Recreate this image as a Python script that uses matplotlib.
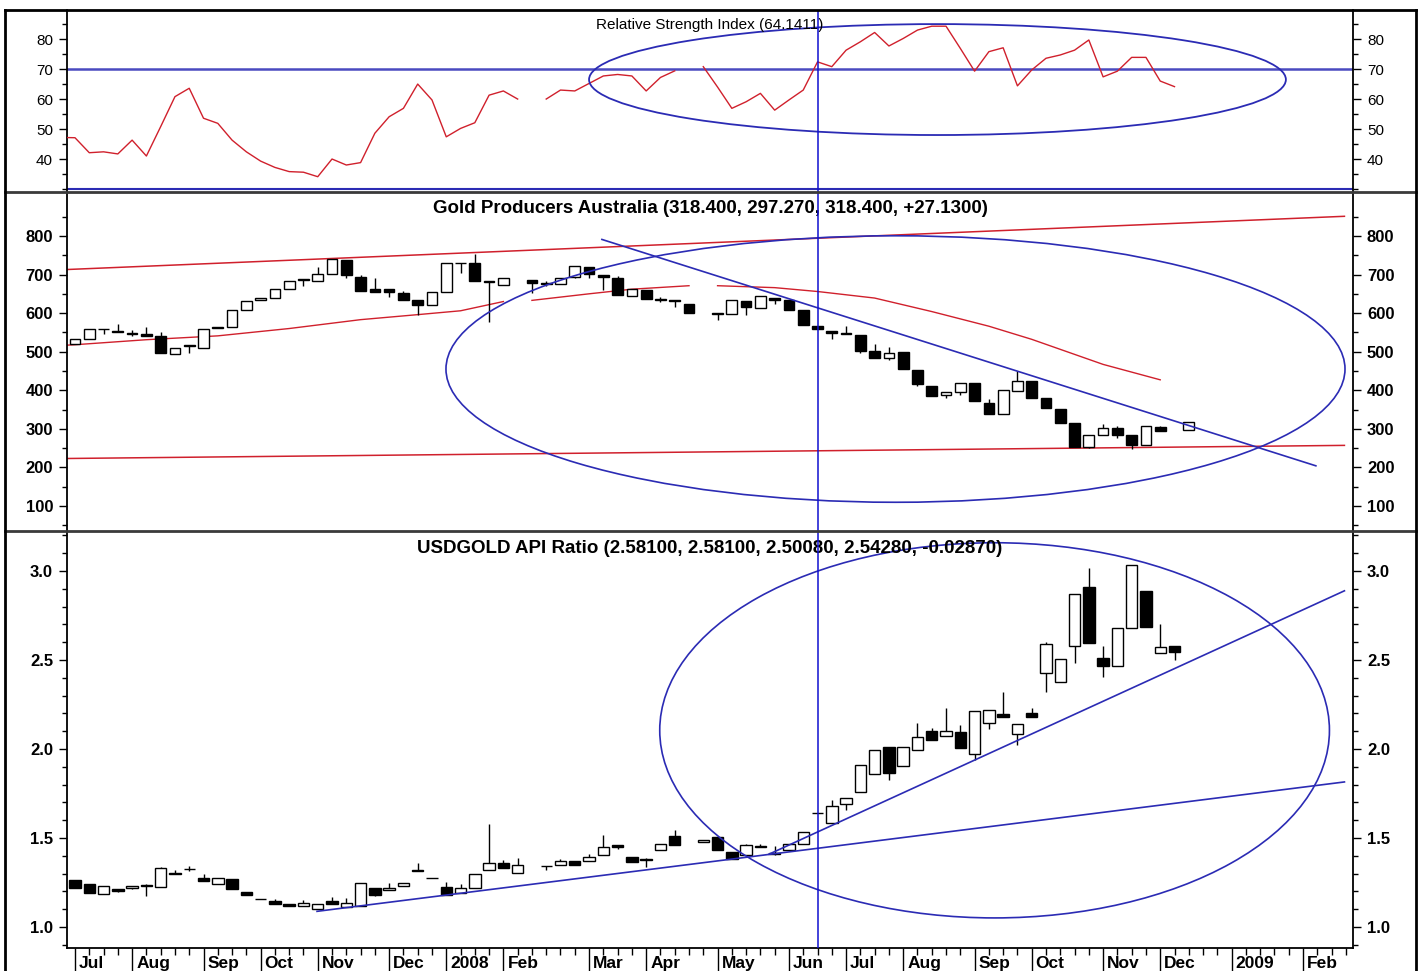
import matplotlib
matplotlib.use("Agg")
import matplotlib.pyplot as plt
import numpy as np
import pandas as pd
from matplotlib import font_manager
from matplotlib.lines import Line2D
from matplotlib.patches import Ellipse

# ---- x axis: weekly slots, week 0 = first July 2007 bar ----
month_weeks = [0, 4, 9, 13, 17, 22, 26, 30, 36, 40, 45, 50, 54, 58, 63, 67, 72, 76, 81, 86]
month_labels = ["Jul", "Aug", "Sep", "Oct", "Nov", "Dec", "2008", "Feb", "Mar", "Apr",
                "May", "Jun", "Jul", "Aug", "Sep", "Oct", "Nov", "Dec", "2009", "Feb"]
marker_week = 52

# ---- RSI panel ----
rsi_weeks = list(range(-1, 32)) + list(range(33, 43)) + list(range(44, 78))
rsi_values = [47.2, 47.1, 42.1, 42.4, 41.7, 46.3, 41.0, 50.8, 60.8, 63.6, 53.6,
              51.9, 46.3, 42.4, 39.3, 37.2, 35.8, 35.6, 34.1, 40.0, 38.0,
              38.8, 48.6, 54.1, 56.9, 65.0, 59.7, 47.4, 50.2, 52.1, 61.3,
              62.7, 60.0,
              60.0, 63.0, 62.7, 65.2, 67.7, 68.2, 67.7, 62.7, 67.2, 69.4,
              70.8, 64.0, 56.9, 59.1, 61.9, 56.3, 59.7, 63.0, 72.4, 70.8,
              76.3, 79.1, 82.2, 77.7, 80.2, 83.0, 84.3, 84.3, 76.9, 69.3,
              75.8, 77.1, 64.4, 69.7, 73.6, 74.7, 76.3, 79.7, 67.4, 69.3,
              73.9, 73.9, 66.0, 64.14]
rsi_levels = [70, 30]
rsi_ellipse = (60.4, 66.5, 48.8, 37.0)  # centre week, centre value, width, height

# ---- Gold Producers Australia (weekly OHLC) ----
gold_weeks = list(range(0, 31)) + list(range(32, 44)) + list(range(45, 77)) + [78]
gold_open = [519, 533, 560, 553, 549, 545, 540, 493, 517, 510, 564, 563, 609, 634, 639, 662,
             689, 684, 701, 737, 693, 662, 662, 652, 633, 620, 656, 731, 731, 682, 673,
             686, 678, 675, 693, 720, 699, 690, 645, 660, 637, 633, 623,
             599, 597, 632, 613, 640, 634, 607, 566, 553, 549, 543, 502, 484, 499, 453, 412,
             388, 396, 418, 366, 339, 398, 424, 381, 351, 315, 253, 283, 302, 283, 257, 304,
             297.27]
gold_high = [533, 559, 560, 572, 556, 564, 550, 510, 517, 559, 564, 609, 632, 640, 662, 684,
             689, 720, 740, 737, 700, 690, 662, 658, 633, 656, 729, 731, 753, 682, 690,
             686, 684, 692, 722, 720, 699, 696, 662, 660, 643, 633, 623,
             599, 634, 632, 645, 640, 634, 607, 566, 553, 566, 543, 519, 511, 499, 453, 412,
             396, 418, 418, 377, 400, 450, 424, 381, 351, 315, 283, 313, 308, 283, 306, 308,
             318.4]
gold_low = [519, 533, 547, 551, 541, 541, 496, 493, 497, 510, 561, 563, 609, 634, 639, 662,
            669, 684, 701, 692, 658, 656, 642, 634, 596, 620, 656, 705, 684, 577, 673,
            653, 670, 675, 690, 690, 660, 646, 645, 636, 629, 616, 600,
            583, 597, 596, 613, 623, 609, 568, 559, 534, 546, 497, 484, 478, 454, 411, 386,
            380, 388, 371, 339, 339, 398, 381, 353, 315, 253, 249, 283, 276, 247, 257, 293,
            297.27]
gold_close = [533, 559, 558, 551, 547, 541, 496, 510, 515, 559, 561, 609, 632, 640, 662, 684,
              687, 701, 740, 699, 658, 656, 656, 634, 620, 656, 729, 729, 684, 680, 690,
              679, 676, 692, 722, 701, 693, 646, 662, 636, 635, 631, 600,
              597, 634, 616, 645, 634, 609, 568, 559, 549, 546, 502, 484, 496, 454, 416, 386,
              396, 418, 371, 339, 400, 424, 381, 353, 315, 253, 283, 302, 283, 259, 306, 293,
              318.4]

# moving average, drawn in three pieces (gaps where weeks are missing)
ma_segments_weeks = [[-1, 0, 5, 10, 15, 20, 24, 27, 30],
                     [32, 36, 39, 43],
                     [45, 49, 52, 56, 60, 64, 67, 70, 72, 76]]
ma_segments_values = [[516, 518, 531, 541, 560, 583, 596, 606, 630],
                      [633, 650, 662, 671],
                      [671, 666, 656, 639, 604, 566, 532, 493, 467, 427]]

gold_red_lines = [([-0.56, 88.9], [713, 851]), ([-0.56, 88.9], [223, 257])]
gold_blue_line = ([36.9, 86.9], [791, 204])
gold_ellipse = (57.46, 455, 62.96, 691)

# ---- USDGOLD API Ratio (weekly OHLC) ----
ratio_weeks = list(range(0, 32)) + list(range(33, 43)) + list(range(44, 78))
ratio_open = [1.262, 1.244, 1.187, 1.212, 1.219, 1.238, 1.225, 1.302, 1.328, 1.277,
              1.244, 1.268, 1.197, 1.157, 1.146, 1.131, 1.118, 1.099, 1.146, 1.113,
              1.116, 1.219, 1.206, 1.230, 1.322, 1.277, 1.225, 1.193, 1.219, 1.319,
              1.360, 1.306,
              1.345, 1.347, 1.369, 1.369, 1.403, 1.459, 1.394, 1.382, 1.435, 1.510,
              1.478, 1.506, 1.422, 1.403, 1.452, 1.414, 1.431, 1.469, 1.643, 1.585,
              1.690, 1.759, 1.858, 2.012, 1.903, 1.993, 2.100, 2.074, 2.097, 1.971,
              2.147, 2.196, 2.087, 2.203, 2.428, 2.378, 2.580, 2.912, 2.509, 2.466,
              2.681, 2.888, 2.537, 2.581]
ratio_high = [1.262, 1.244, 1.229, 1.214, 1.233, 1.240, 1.338, 1.320, 1.345, 1.300,
              1.276, 1.268, 1.197, 1.157, 1.155, 1.131, 1.150, 1.131, 1.170, 1.165,
              1.247, 1.219, 1.250, 1.247, 1.362, 1.277, 1.253, 1.243, 1.296, 1.581,
              1.375, 1.389,
              1.345, 1.380, 1.369, 1.412, 1.516, 1.462, 1.394, 1.385, 1.465, 1.544,
              1.491, 1.506, 1.422, 1.468, 1.465, 1.455, 1.469, 1.534, 1.643, 1.713,
              1.722, 1.909, 1.993, 2.012, 2.012, 2.147, 2.120, 2.228, 2.134, 2.215,
              2.222, 2.321, 2.138, 2.228, 2.603, 2.505, 2.869, 3.015, 2.578, 2.678,
              3.034, 2.888, 2.700, 2.581]
ratio_low = [1.221, 1.193, 1.187, 1.198, 1.215, 1.174, 1.225, 1.296, 1.315, 1.259,
             1.244, 1.212, 1.178, 1.155, 1.131, 1.118, 1.118, 1.099, 1.128, 1.113,
             1.116, 1.175, 1.206, 1.230, 1.313, 1.275, 1.178, 1.193, 1.219, 1.319,
             1.334, 1.306,
             1.322, 1.347, 1.350, 1.369, 1.403, 1.440, 1.366, 1.337, 1.435, 1.459,
             1.478, 1.431, 1.384, 1.403, 1.452, 1.405, 1.431, 1.469, 1.639, 1.585,
             1.655, 1.759, 1.858, 1.825, 1.903, 1.993, 2.050, 2.074, 2.008, 1.941,
             2.115, 2.181, 2.022, 2.181, 2.318, 2.378, 2.485, 2.597, 2.406, 2.466,
             2.681, 2.687, 2.537, 2.5008]
ratio_close = [1.221, 1.193, 1.229, 1.205, 1.229, 1.232, 1.334, 1.296, 1.326, 1.259,
               1.276, 1.212, 1.182, 1.155, 1.131, 1.118, 1.137, 1.131, 1.131, 1.137,
               1.247, 1.182, 1.221, 1.247, 1.313, 1.275, 1.178, 1.219, 1.296, 1.360,
               1.334, 1.347,
               1.341, 1.369, 1.350, 1.394, 1.450, 1.452, 1.366, 1.378, 1.465, 1.459,
               1.491, 1.431, 1.384, 1.459, 1.457, 1.411, 1.469, 1.534, 1.639, 1.679,
               1.722, 1.909, 1.993, 1.866, 2.012, 2.068, 2.050, 2.100, 2.008, 2.215,
               2.222, 2.181, 2.138, 2.181, 2.588, 2.505, 2.869, 2.597, 2.466, 2.678,
               3.034, 2.687, 2.575, 2.5428]

ratio_blue_lines = [([16.95, 88.9], [1.088, 1.815]), ([48.6, 88.9], [1.409, 2.889])]
ratio_ellipse = (64.4, 2.105, 46.9, 2.108)

# ---- styling ----
RED = "#d0202c"
BLUE = "#2b2bb4"
VBLUE = "#1010d0"
FIG_W, FIG_H = 1422, 971
XLIM = (-0.56, 89.5)

available = {f.name for f in font_manager.fontManager.ttflist}
NARROW = "Liberation Sans Narrow" if "Liberation Sans Narrow" in available else "Liberation Sans"
plt.rcParams["font.family"] = ["Liberation Sans", "DejaVu Sans"]


def fy(px: float) -> float:
    return 1 - px / FIG_H


def draw_candles(ax, weeks, o, h, l, c, width=0.78):
    weeks, o, h, l, c = (np.asarray(a, dtype=float) for a in (weeks, o, h, l, c))
    bottom = np.minimum(o, c)
    height = np.abs(c - o)
    colors = np.where(c >= o, "white", "black")
    ax.vlines(weeks, l, h, color="black", lw=1.0, zorder=3)
    ax.bar(weeks, height, width, bottom=bottom, color=colors,
           edgecolor="black", linewidth=1.0, zorder=4)


def style_y(ax, major, minor, bold, size, family):
    ax.set_yticks(major)
    ax.set_yticks(minor, minor=True)
    ax.tick_params(axis="y", which="both", direction="out", left=True, right=True,
                   labelleft=True, labelright=True, width=1)
    ax.tick_params(axis="y", which="major", length=6, pad=4)
    ax.tick_params(axis="y", which="minor", length=3.5)
    for lab in ax.get_yticklabels():
        lab.set_fontweight("bold" if bold else "normal")
        lab.set_fontsize(size)
        lab.set_family(family)
    ax.spines["top"].set_visible(False)
    for side in ("left", "right"):
        ax.spines[side].set_linewidth(1.3)
    ax.set_xlim(*XLIM)


fig = plt.figure(figsize=(FIG_W / 100, FIG_H / 100), dpi=100)
L, R = 67 / FIG_W, 1353 / FIG_W
ax_rsi = fig.add_axes([L, fy(192), R - L, fy(10) - fy(192)])
ax_gold = fig.add_axes([L, fy(531), R - L, fy(192) - fy(531)])
ax_ratio = fig.add_axes([L, fy(948), R - L, fy(531) - fy(948)])

# RSI
rsi = pd.Series(rsi_values, index=rsi_weeks).reindex(range(-1, 78))
ax_rsi.plot(rsi.index, rsi.values, color=RED, lw=1.0, zorder=3)
ax_rsi.axhline(rsi_levels[0], color="#4a4ac0", lw=1.8, zorder=2)
ax_rsi.axhline(rsi_levels[1], color=BLUE, lw=1.5, zorder=2)
cx, cy, ew, eh = rsi_ellipse
ax_rsi.add_patch(Ellipse((cx, cy), ew, eh, fill=False, edgecolor=BLUE, lw=1.3, zorder=4))
ax_rsi.set_ylim(29, 89.7)
style_y(ax_rsi, [40, 50, 60, 70, 80], np.arange(30, 90, 5), False, 11, NARROW)
ax_rsi.spines["bottom"].set_visible(False)
ax_rsi.tick_params(axis="x", which="both", bottom=False, labelbottom=False)
ax_rsi.text(0.5, 0.915, "Relative Strength Index (64.1411)", transform=ax_rsi.transAxes,
            ha="center", va="center", fontsize=11, family=NARROW, zorder=5)

# Gold producers
draw_candles(ax_gold, gold_weeks, gold_open, gold_high, gold_low, gold_close, width=0.75)
for wk, vals in zip(ma_segments_weeks, ma_segments_values):
    ax_gold.plot(wk, vals, color=RED, lw=1.0, zorder=2)
for xs, ys in gold_red_lines:
    ax_gold.plot(xs, ys, color=RED, lw=1.1, zorder=2)
ax_gold.plot(*gold_blue_line, color=BLUE, lw=1.2, zorder=5)
cx, cy, ew, eh = gold_ellipse
ax_gold.add_patch(Ellipse((cx, cy), ew, eh, fill=False, edgecolor=BLUE, lw=1.2, zorder=5))
ax_gold.set_ylim(35, 914)
style_y(ax_gold, np.arange(100, 900, 100), np.arange(50, 900, 50), True, 12, "Liberation Sans")
ax_gold.spines["bottom"].set_visible(False)
ax_gold.tick_params(axis="x", which="both", bottom=False, labelbottom=False)
ax_gold.text(0.5, 0.95, "Gold Producers Australia (318.400, 297.270, 318.400, +27.1300)",
             transform=ax_gold.transAxes, ha="center", va="center", fontsize=13.5,
             fontweight="bold", zorder=6)

# USDGOLD ratio
draw_candles(ax_ratio, ratio_weeks, ratio_open, ratio_high, ratio_low, ratio_close, width=0.8)
for xs, ys in ratio_blue_lines:
    ax_ratio.plot(xs, ys, color=BLUE, lw=1.2, zorder=5)
cx, cy, ew, eh = ratio_ellipse
ax_ratio.add_patch(Ellipse((cx, cy), ew, eh, fill=False, edgecolor=BLUE, lw=1.2, zorder=5))
ax_ratio.set_ylim(0.882, 3.225)
style_y(ax_ratio, [1.0, 1.5, 2.0, 2.5, 3.0], np.arange(0.9, 3.25, 0.1), True, 12, "Liberation Sans")
ax_ratio.yaxis.set_major_formatter(matplotlib.ticker.FormatStrFormatter("%.1f"))
ax_ratio.text(0.5, 0.959, "USDGOLD API Ratio (2.58100, 2.58100, 2.50080, 2.54280, -0.02870)",
              transform=ax_ratio.transAxes, ha="center", va="center", fontsize=13.5,
              fontweight="bold", zorder=6)
ax_ratio.spines["bottom"].set_linewidth(1.3)
ax_ratio.set_xticks(month_weeks)
ax_ratio.set_xticks(range(0, 90), minor=True)
ax_ratio.set_xticklabels([])
ax_ratio.tick_params(axis="x", which="major", direction="out", length=17, width=1)
ax_ratio.tick_params(axis="x", which="minor", direction="out", length=5, width=1)
for wk, lab in zip(month_weeks, month_labels):
    ax_ratio.annotate(lab, xy=(wk, 0), xycoords=("data", "axes fraction"),
                      xytext=(4, -8), textcoords="offset pixels", ha="left", va="top",
                      fontsize=12.5, fontweight="bold", annotation_clip=False)

# vertical marker through all panels
for ax in (ax_rsi, ax_gold, ax_ratio):
    ax.axvline(marker_week, color=VBLUE, lw=1.1, zorder=6)
    ax.set_xlim(*XLIM)

# outer frame and panel separators
frame_l, frame_r = 5 / FIG_W, 1416 / FIG_W
for y in (192, 531):
    fig.add_artist(Line2D([frame_l, frame_r], [fy(y), fy(y)], color="#3a3a3a", lw=2.0))
fig.add_artist(Line2D([frame_l, frame_r], [fy(10), fy(10)], color="black", lw=2.0))
fig.add_artist(Line2D([frame_l, frame_l], [fy(10), 0], color="black", lw=2.0))
fig.add_artist(Line2D([frame_r, frame_r], [fy(10), 0], color="black", lw=2.0))

fig.savefig("out.png", dpi=100)
